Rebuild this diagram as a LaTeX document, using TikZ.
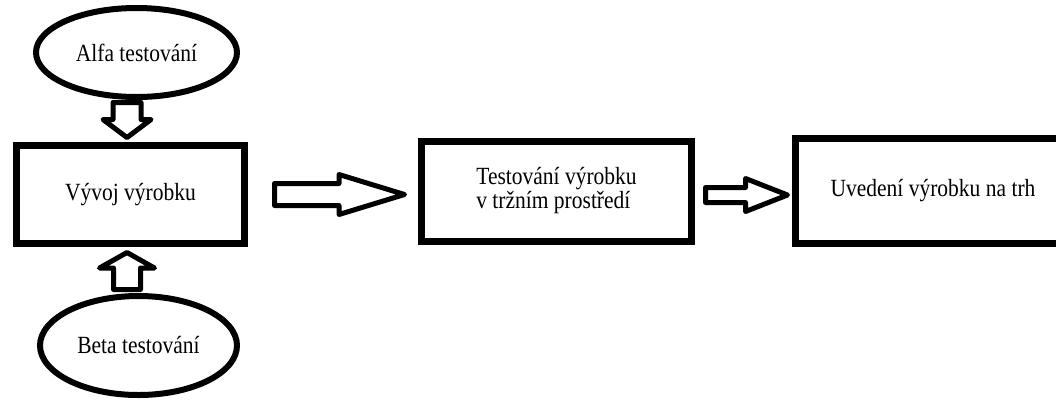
\documentclass[tikz,border=0pt]{standalone}
\usepackage{fontspec}
\setmainfont{Liberation Serif}
\usepackage{graphicx}
\usetikzlibrary{shapes.geometric,calc}
% slightly tall lettering
\newcommand{\tall}[1]{\scalebox{1}[1.15]{#1}}
\tikzset{
  oval/.style={ellipse, draw, line width=6pt, outer sep=0pt, inner sep=0pt},
  stage/.style={rectangle, draw, line width=7pt, outer sep=0pt, inner sep=0pt},
  blockarrow/.style={draw, fill=white, line width=5pt, line join=round},
  lbl/.style={font=\fontsize{21.5}{21.7}\selectfont}
}
\begin{document}
\begin{tikzpicture}[x=1pt,y=-1pt]
\useasboundingbox (0,0) rectangle (1056,405);

% shapes
\node[oval, lbl, minimum width=201pt, minimum height=89pt] (alfa) at (136.5,52.5)
  {\tall{Alfa testování}\hspace{12pt}};
\node[stage, lbl, minimum width=228pt, minimum height=98pt] (dev) at (130.5,194.5)
  {\tall{Vývoj výrobku}\hspace{10pt}};
\node[oval, lbl, minimum width=197pt, minimum height=99pt] (beta) at (138.5,345.5)
  {\tall{Beta testování}};
\node[stage, lbl, minimum width=270pt, minimum height=100pt] (test) at (556.5,191.5)
  {\raisebox{-3pt}{\tall{\begin{tabular}{@{}l@{}}Testování výrobku\\v tržním prostředí\end{tabular}}}\hspace{8pt}};
\node[stage, lbl, minimum width=275pt, minimum height=105pt] (market) at (933,191)
  {\tall{Uvedení výrobku na trh}};

% Alfa testování -> Vývoj výrobku
\coordinate (a1tip) at ($(dev.north)+(-3.5,-8)$);
\coordinate (a1top) at ($(alfa.south -| a1tip)+(0,5.5)$);
\draw[blockarrow] (a1tip) -- ($(a1tip)+(24,-18)$) -- ($(a1tip)+(14,-18)$)
  -- ($(a1top)+(14,0)$) -- ($(a1top)+(-14,0)$) -- ($(a1tip)+(-14,-18)$)
  -- ($(a1tip)+(-24,-18)$) -- cycle;

% Beta testování -> Vývoj výrobku
\coordinate (a2tip) at ($(dev.south)+(-3.5,9)$);
\coordinate (a2bot) at ($(beta.north -| a2tip)+(0,-6.5)$);
\draw[blockarrow] (a2tip) -- ($(a2tip)+(27.5,15.5)$) -- ($(a2tip)+(13.5,15.5)$)
  -- ($(a2bot)+(13.5,0)$) -- ($(a2bot)+(-13.5,0)$) -- ($(a2tip)+(-13.5,15.5)$)
  -- ($(a2tip)+(-27.5,15.5)$) -- cycle;

% Vývoj výrobku -> Testování výrobku
\coordinate (a3tip) at ($(test.west)+(-17,3)$);
\coordinate (a3tail) at ($(dev.east |- a3tip)+(30,0)$);
\draw[blockarrow] (a3tip) -- ($(a3tip)+(-65.5,-20)$) -- ($(a3tip)+(-65.5,-11)$)
  -- ($(a3tail)+(0,-11)$) -- ($(a3tail)+(0,11)$) -- ($(a3tip)+(-65.5,11)$)
  -- ($(a3tip)+(-65.5,20)$) -- cycle;

% Testování výrobku -> Uvedení výrobku na trh
\coordinate (a4tip) at ($(market.west)+(-8,4)$);
\coordinate (a4tail) at ($(test.east |- a4tip)+(14,0)$);
\draw[blockarrow] (a4tip) -- ($(a4tip)+(-42,-16.5)$) -- ($(a4tip)+(-42,-7.5)$)
  -- ($(a4tail)+(0,-7.5)$) -- ($(a4tail)+(0,7.5)$) -- ($(a4tip)+(-42,7.5)$)
  -- ($(a4tip)+(-42,16.5)$) -- cycle;
\end{tikzpicture}
\end{document}
